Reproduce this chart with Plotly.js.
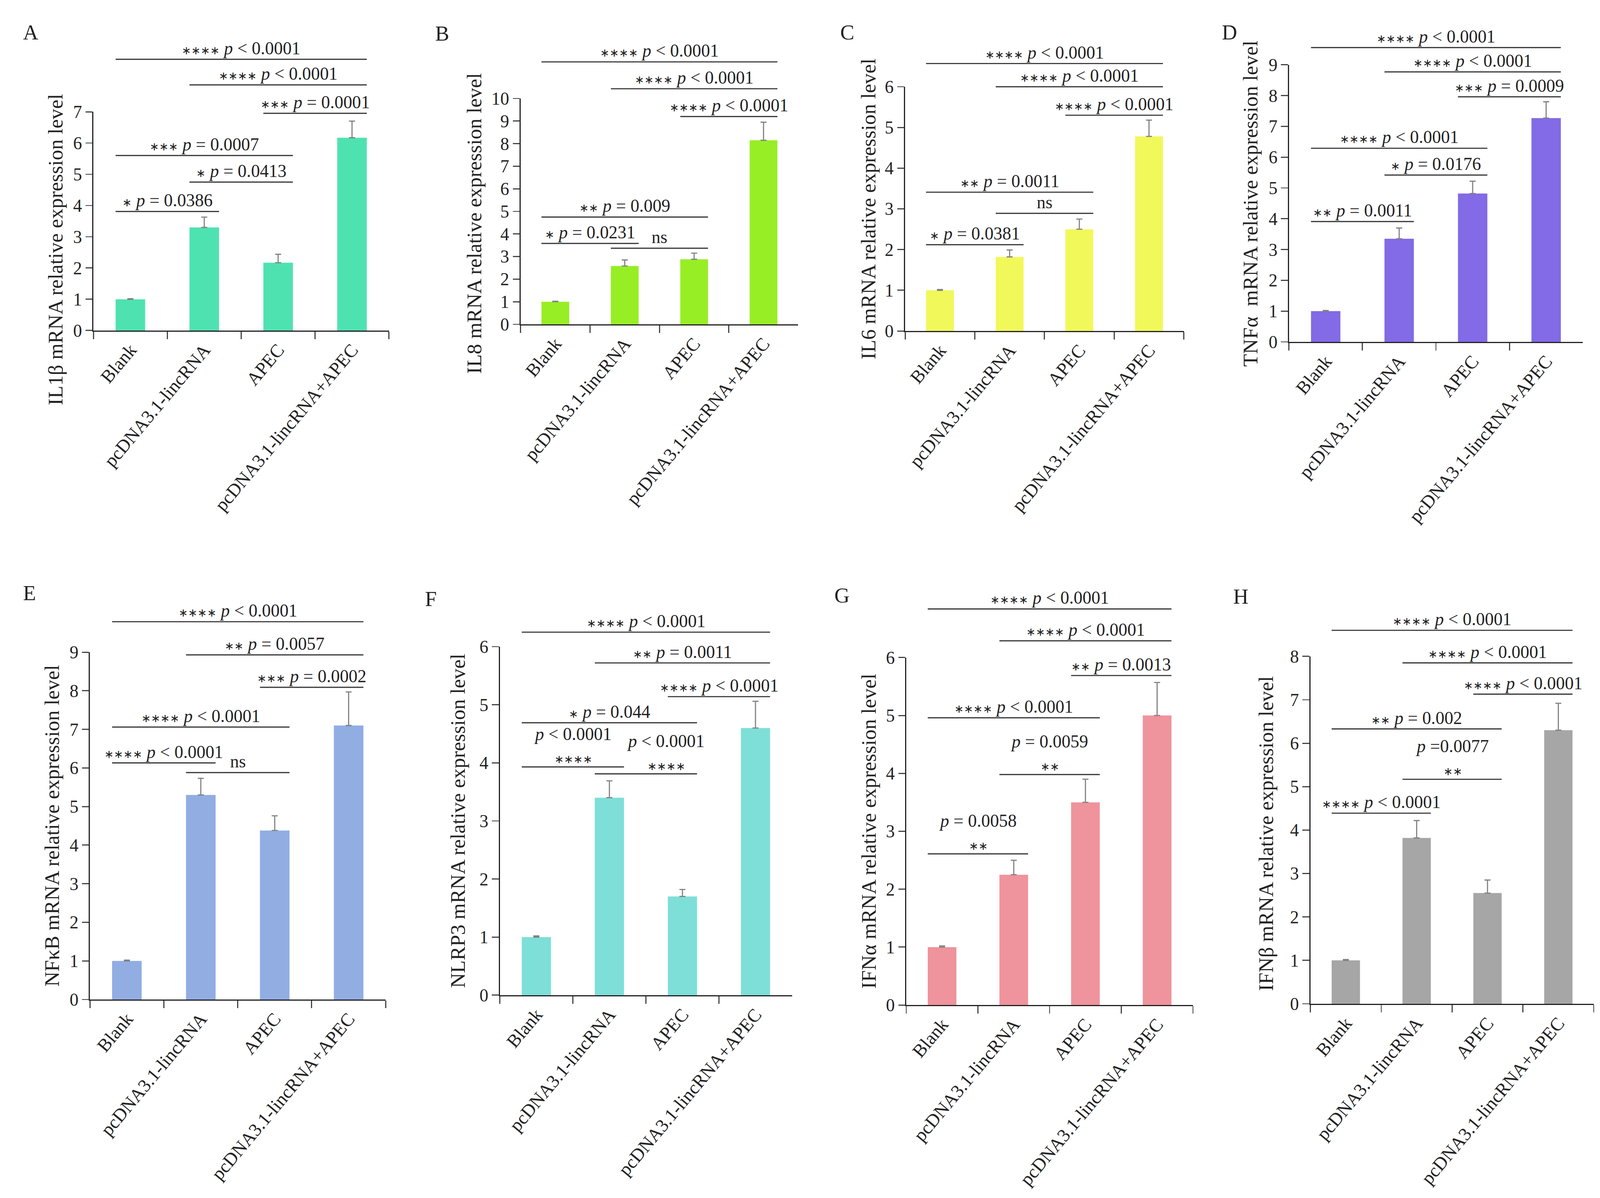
<!DOCTYPE html>
<html>
<head>
<meta charset="utf-8">
<script src="https://cdn.plot.ly/plotly-3.0.1.min.js"></script>
<style>html,body{margin:0;padding:0;background:#fff;overflow:hidden}</style>
</head>
<body>
<div id="plot"></div>
<script>
// groups shared by every panel
var groups = ["Blank", "pcDNA3.1-lincRNA", "APEC", "pcDNA3.1-lincRNA+APEC"];

// mean relative expression and (upper) error per gene
var il1bMean = [1.0, 3.3, 2.17, 6.17];
var il1bErr = [0.02, 0.33, 0.27, 0.53];
var il8Mean = [1.0, 2.58, 2.88, 8.15];
var il8Err = [0.02, 0.27, 0.27, 0.8];
var il6Mean = [1.0, 1.82, 2.5, 4.78];
var il6Err = [0.02, 0.17, 0.25, 0.4];
var tnfaMean = [1.0, 3.35, 4.82, 7.27];
var tnfaErr = [0.02, 0.35, 0.4, 0.53];
var nfkbMean = [1.0, 5.3, 4.38, 7.1];
var nfkbErr = [0.02, 0.43, 0.38, 0.87];
var nlrp3Mean = [1.0, 3.4, 1.7, 4.6];
var nlrp3Err = [0.02, 0.29, 0.12, 0.46];
var ifnaMean = [1.0, 2.25, 3.5, 5.0];
var ifnaErr = [0.02, 0.25, 0.4, 0.57];
var ifnbMean = [1.0, 3.82, 2.55, 6.3];
var ifnbErr = [0.02, 0.4, 0.3, 0.62];

// comparisons: [from, to, bracket height, stars, p text, stacked?, x nudge]
var il1bComps = [[0,1,3.81,1,"= 0.0386"],[1,2,4.75,1,"= 0.0413"],[0,2,5.6,3,"= 0.0007"],
                 [2,3,6.95,3,"= 0.0001"],[1,3,7.86,4,"< 0.0001"],[0,3,8.68,4,"< 0.0001"]];
var il8Comps = [[0,1,3.58,1,"= 0.0231"],[1,2,3.37,0,"ns"],[0,2,4.75,2,"= 0.009"],
                [2,3,9.2,4,"< 0.0001"],[1,3,10.43,4,"< 0.0001"],[0,3,11.62,4,"< 0.0001"]];
var il6Comps = [[0,1,2.12,1,"= 0.0381"],[1,2,2.89,0,"ns"],[0,2,3.41,2,"= 0.0011"],
                [2,3,5.3,4,"< 0.0001"],[1,3,6.0,4,"< 0.0001"],[0,3,6.57,4,"< 0.0001"]];
var tnfaComps = [[0,1,3.91,2,"= 0.0011"],[1,2,5.42,1,"= 0.0176"],[0,2,6.29,4,"< 0.0001"],
                 [2,3,7.96,3,"= 0.0009"],[1,3,8.77,4,"< 0.0001"],[0,3,9.56,4,"< 0.0001"]];
var nfkbComps = [[0,1,6.13,4,"< 0.0001"],[1,2,5.88,0,"ns"],[0,2,7.06,4,"< 0.0001"],
                 [2,3,8.09,3,"= 0.0002"],[1,3,8.93,2,"= 0.0057"],[0,3,9.79,4,"< 0.0001"]];
var nlrp3Comps = [[0,1,3.93,4,"< 0.0001",true],[1,2,3.81,4,"< 0.0001",true,0.27],[0,2,4.69,1,"= 0.044"],
                  [2,3,5.14,4,"< 0.0001"],[1,3,5.72,2,"= 0.0011"],[0,3,6.25,4,"< 0.0001"]];
var ifnaComps = [[0,1,2.61,2,"= 0.0058",true],[1,2,3.98,2,"= 0.0059",true],[0,2,4.96,4,"< 0.0001"],
                 [2,3,5.69,2,"= 0.0013"],[1,3,6.29,4,"< 0.0001"],[0,3,6.84,4,"< 0.0001"]];
var ifnbComps = [[0,1,4.39,4,"< 0.0001"],[1,2,5.17,2,"=0.0077",true],[0,2,6.33,2,"= 0.002"],
                 [2,3,7.13,4,"< 0.0001"],[1,3,7.85,4,"< 0.0001"],[0,3,8.6,4,"< 0.0001"]];

var panels = [
  {letter:"A", mean:il1bMean, err:il1bErr, comps:il1bComps, ymax:7, color:"#4fe2b1",
   title:"IL1\u03b2 mRNA relative expression level", tx:105, ty:0.37,
   xd:[0.0584,0.2431], yd:[0.7241,0.9067], lx:0.014, ly:0.973},
  {letter:"B", mean:il8Mean, err:il8Err, comps:il8Comps, ymax:10, color:"#97ee25",
   title:"IL8 mRNA relative expression level", tx:127, ty:0.446,
   xd:[0.3254,0.4989], yd:[0.7293,0.9178], lx:0.2716, ly:0.972},
  {letter:"C", mean:il6Mean, err:il6Err, comps:il6Comps, ymax:6, color:"#f1f85a",
   title:"IL6 mRNA relative expression level", tx:102, ty:0.5,
   xd:[0.5657,0.7399], yd:[0.7237,0.9276], lx:0.5247, ly:0.973},
  {letter:"D", mean:tnfaMean, err:tnfaErr, comps:tnfaComps, ymax:9, color:"#836ae6",
   title:"TNF\u03b1  mRNA relative expression level", tx:105, ty:0.5,
   xd:[0.8056,0.9893], yd:[0.7146,0.9459], lx:0.7632, ly:0.973},
  {letter:"E", mean:nfkbMean, err:nfkbErr, comps:nfkbComps, ymax:9, color:"#91ade2",
   title:"NF\u03baB mRNA relative expression level", tx:105, ty:0.5,
   xd:[0.0562,0.2410], yd:[0.1657,0.4556], lx:0.014, ly:0.505},
  {letter:"F", mean:nlrp3Mean, err:nlrp3Err, comps:nlrp3Comps, ymax:6, color:"#7edfd8",
   title:"NLRP3 mRNA relative expression level", tx:116, ty:0.5,
   xd:[0.3124,0.4950], yd:[0.1693,0.4602], lx:0.2652, ly:0.5},
  {letter:"G", mean:ifnaMean, err:ifnaErr, comps:ifnaComps, ymax:6, color:"#ef939c",
   title:"IFN\u03b1 mRNA relative expression level", tx:103, ty:0.5,
   xd:[0.5664,0.7456], yd:[0.1611,0.4511], lx:0.521, ly:0.503},
  {letter:"H", mean:ifnbMean, err:ifnbErr, comps:ifnbComps, ymax:8, color:"#a6a6a6",
   title:"IFN\u03b2 mRNA relative expression level", tx:122, ty:0.49,
   xd:[0.8190,0.9961], yd:[0.1621,0.4521], lx:0.7702, ly:0.502}
];

// size everything to the real viewport (the window may be narrower than asked)
var W = window.innerWidth || 4398, H = window.innerHeight || 3066;
var sx = W / 4398, sv = H / 3066, sf = (sx + sv) / 2;
function fpx(v) { return v * sf; }

var FONT = "Liberation Serif, Times New Roman, serif";
var data = [], shapes = [], annotations = [];
var layout = {
  width: W, height: H,
  margin: {l: 0, r: 0, t: 0, b: 0},
  paper_bgcolor: "#fff", plot_bgcolor: "#fff",
  showlegend: false,
  font: {family: FONT, size: fpx(46), color: "#222"}
};

function stars(n) {
  var t = "";
  for (var k = 0; k < n; k++) t += "\u2217";
  return "<span style='font-family:DejaVu Sans;font-size:" + fpx(30).toFixed(1) + "px'>" + t + "</span>";
}

panels.forEach(function(p, i) {
  var n = i === 0 ? "" : String(i + 1);
  var xa = "x" + n, ya = "y" + n;

  data.push({
    type: "bar", x: groups, y: p.mean, xaxis: xa, yaxis: ya,
    width: 0.4, marker: {color: p.color},
    error_y: {type: "data", symmetric: false, array: p.err,
              arrayminus: p.err.map(function() { return 0; }),
              color: "#808080", thickness: fpx(3), width: fpx(8)},
    hoverinfo: "skip"
  });

  layout["xaxis" + n] = {
    domain: p.xd, anchor: ya, type: "category", range: [-0.5, 3.5],
    showline: true, linecolor: "#222", linewidth: fpx(3), mirror: false,
    ticks: "outside", tickson: "boundaries", ticklen: fpx(20), tickwidth: fpx(3), tickcolor: "#444",
    tickangle: -50, tickfont: {family: FONT, size: fpx(49), color: "#222"},
    showgrid: false, zeroline: false, fixedrange: true
  };
  layout["yaxis" + n] = {
    domain: p.yd, anchor: xa, range: [0, p.ymax], dtick: 1,
    showline: true, linecolor: "#222", linewidth: fpx(3),
    ticks: "outside", ticklen: fpx(18), tickwidth: fpx(3), tickcolor: "#444",
    tickfont: {family: FONT, size: fpx(47), color: "#222"},
    showgrid: false, zeroline: false, fixedrange: true
  };

  // y axis title, placed like the original (some sit a little low)
  annotations.push({
    xref: xa + " domain", yref: ya + " domain", x: 0, y: p.ty,
    xshift: -p.tx * sx, xanchor: "center", yanchor: "middle", textangle: -90,
    text: p.title, showarrow: false, font: {family: FONT, size: fpx(55), color: "#222"}
  });

  annotations.push({
    xref: "paper", yref: "paper", x: p.lx, y: p.ly, xanchor: "left", yanchor: "middle",
    text: p.letter, showarrow: false, font: {family: FONT, size: fpx(56), color: "#222"}
  });

  p.comps.forEach(function(c) {
    var h = c[2] / p.ymax;
    shapes.push({
      type: "line", xref: xa, yref: ya + " domain",
      x0: c[0] - 0.2, x1: c[1] + 0.2, y0: h, y1: h,
      line: {color: "#333", width: fpx(3)}
    });
    var label;
    if (c[3] === 0) label = c[4];
    else {
      var pt = "<i>p</i> " + c[4].replace("<", "&lt;");
      label = c[5] ? pt + "<br>" + stars(c[3]) : stars(c[3]) + " " + pt;
    }
    annotations.push({
      xref: xa, yref: ya + " domain", x: (c[0] + c[1]) / 2 + (c[6] || 0), y: h,
      xanchor: "center", yanchor: "bottom", align: "center", yshift: fpx(1),
      text: label, showarrow: false, font: {family: FONT, size: fpx(47), color: "#222"}
    });
  });
});

layout.shapes = shapes;
layout.annotations = annotations;

Plotly.newPlot("plot", data, layout, {staticPlot: true});
</script>
</body>
</html>
